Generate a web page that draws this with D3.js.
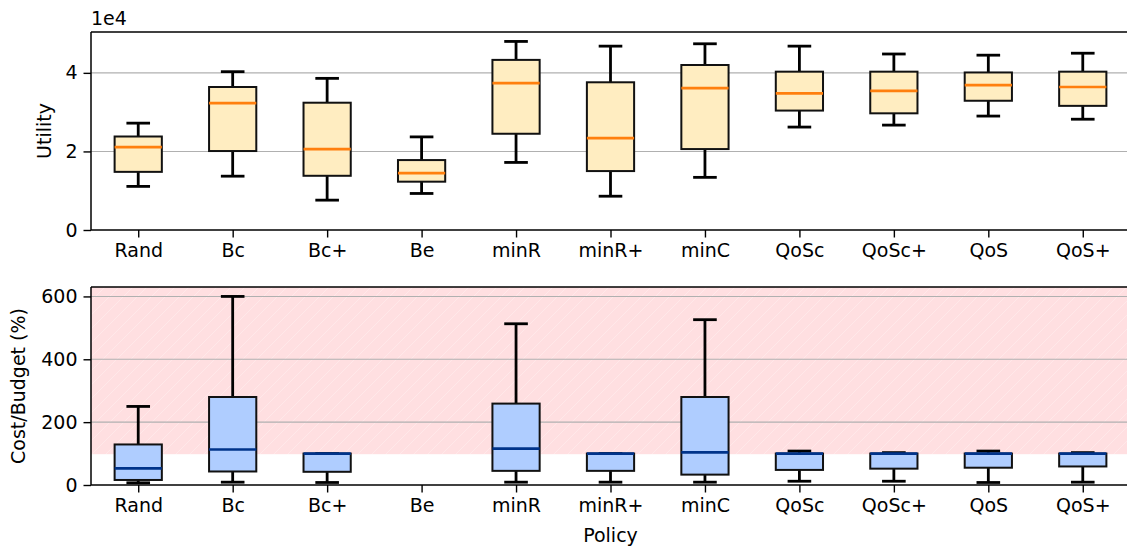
<!DOCTYPE html>
<html>
<head>
<meta charset="utf-8">
<script src="https://cdn.jsdelivr.net/npm/d3@7"></script>
<style>
  body { margin: 0; background: #fff; }
  svg { display: block; font-family: "DejaVu Sans", sans-serif; }
</style>
</head>
<body>
<div id="chart"></div>
<script>
const policies = ["Rand", "Bc", "Bc+", "Be", "minR", "minR+", "minC", "QoSc", "QoSc+", "QoS", "QoS+"];

// utility, in units of 1e4
const utilLow  = [1.11, 1.37, 0.76, 0.93, 1.72, 0.86, 1.34, 2.62, 2.67, 2.90, 2.82];
const utilQ1   = [1.48, 2.01, 1.38, 1.23, 2.45, 1.50, 2.06, 3.04, 2.97, 3.29, 3.16];
const utilMed  = [2.11, 3.23, 2.06, 1.45, 3.74, 2.34, 3.61, 3.48, 3.54, 3.69, 3.64];
const utilQ3   = [2.38, 3.64, 3.24, 1.78, 4.33, 3.76, 4.20, 4.03, 4.03, 4.01, 4.03];
const utilHigh = [2.72, 4.03, 3.86, 2.37, 4.80, 4.68, 4.74, 4.68, 4.48, 4.45, 4.50];

// cost / budget in %, Be has no data
const costLow  = [7, 9, 8, null, 9, 9, 9, 12, 12, 8, 9];
const costQ1   = [16, 43, 42, null, 45, 45, 33, 48, 52, 55, 59];
const costMed  = [53, 113, 100, null, 116, 100, 104, 100, 100, 100, 100];
const costQ3   = [129, 280, 100, null, 259, 100, 280, 100, 100, 100, 100];
const costHigh = [250, 600, 100, null, 513, 100, 526, 108, 103, 108, 103];

const utilTicks = [0, 2, 4];
const costTicks = [0, 200, 400, 600];
const overBudget = 98;

const W = 1127, H = 547;
const left = 91, right = 1130;
const fs = 19;

const svg = d3.select("#chart").append("svg")
    .attr("width", W)
    .attr("height", H);

const defs = svg.append("defs");
const pat = defs.append("pattern")
    .attr("id", "hatch")
    .attr("patternUnits", "userSpaceOnUse")
    .attr("width", 14).attr("height", 14);
pat.append("rect").attr("width", 14).attr("height", 14).attr("fill", "#ffdfe1");
pat.append("path")
    .attr("d", "M-1,15 L15,-1 M-4,4 L4,-4 M10,18 L18,10")
    .attr("stroke", "#fff").attr("stroke-opacity", 0.35).attr("stroke-width", 0.8);

const x = d3.scalePoint()
    .domain(policies)
    .range([left, right])
    .padding(0.5);
const step = x.step();
const boxW = step * 0.5, capW = step * 0.25;
const wW = 2.8;

function panel(top, bottom, yMax, ticks, tickFmt, label, labelX, series, fill, medColor, band) {
    const y = d3.scaleLinear().domain([0, yMax]).range([bottom, top]);
    const g = svg.append("g");

    if (band) {
        g.append("rect")
            .attr("x", left).attr("width", right - left)
            .attr("y", y(yMax)).attr("height", y(band) - y(yMax))
            .attr("fill", "url(#hatch)");
    }

    // grid
    g.append("g").selectAll("line")
        .data(ticks.filter(t => t > 0))
        .join("line")
        .attr("x1", left).attr("x2", right)
        .attr("y1", d => y(d)).attr("y2", d => y(d))
        .attr("stroke", "#b0b0b0").attr("stroke-width", 1.1);

    const rows = policies.map((p, i) => ({
        p, lo: series[0][i], q1: series[1][i], med: series[2][i], q3: series[3][i], hi: series[4][i]
    })).filter(d => d.med != null);

    const b = g.append("g").selectAll("g").data(rows).join("g")
        .attr("transform", d => `translate(${x(d.p)},0)`);

    b.append("line").attr("y1", d => y(d.lo)).attr("y2", d => y(d.q1))
        .attr("stroke", "#000").attr("stroke-width", wW);
    b.append("line").attr("y1", d => y(d.q3)).attr("y2", d => y(d.hi))
        .attr("stroke", "#000").attr("stroke-width", wW);
    b.append("line").attr("x1", -capW / 2).attr("x2", capW / 2)
        .attr("y1", d => y(d.lo)).attr("y2", d => y(d.lo))
        .attr("stroke", "#000").attr("stroke-width", wW);
    b.append("line").attr("x1", -capW / 2).attr("x2", capW / 2)
        .attr("y1", d => y(d.hi)).attr("y2", d => y(d.hi))
        .attr("stroke", "#000").attr("stroke-width", wW);
    b.append("rect")
        .attr("x", -boxW / 2).attr("width", boxW)
        .attr("y", d => y(d.q3)).attr("height", d => Math.max(0, y(d.q1) - y(d.q3)))
        .attr("fill", fill).attr("stroke", "#111").attr("stroke-width", 2);
    b.append("line").attr("x1", -boxW / 2).attr("x2", boxW / 2)
        .attr("y1", d => y(d.med)).attr("y2", d => y(d.med))
        .attr("stroke", medColor).attr("stroke-width", 2.7);

    // spines
    g.append("line").attr("x1", left).attr("x2", right).attr("y1", top).attr("y2", top)
        .attr("stroke", "#000").attr("stroke-width", 1.5);

    const ya = g.append("g").attr("transform", `translate(${left},0)`)
        .call(d3.axisLeft(y).tickValues(ticks).tickFormat(tickFmt).tickSize(7.5).tickPadding(6));
    ya.select(".domain").attr("stroke-width", 1.5).attr("d", `M0,${top}V${bottom}`);
    ya.selectAll(".tick line").attr("stroke-width", 1.4);
    ya.selectAll("text").attr("font-size", fs).attr("font-family", "DejaVu Sans").attr("fill", "#000");

    const xa = g.append("g").attr("transform", `translate(0,${bottom})`)
        .call(d3.axisBottom(x).tickSize(7.5).tickPadding(6));
    xa.select(".domain").attr("stroke-width", 1.5).attr("d", `M${left},0H${right}`);
    xa.selectAll(".tick line").attr("stroke-width", 1.4);
    xa.selectAll("text").attr("font-size", fs).attr("font-family", "DejaVu Sans").attr("fill", "#000");

    g.append("text")
        .attr("transform", `translate(${labelX},${(top + bottom) / 2}) rotate(-90)`)
        .attr("text-anchor", "middle").attr("dominant-baseline", "central")
        .attr("font-size", fs).text(label);
    return y;
}

panel(32, 230, 5.04, utilTicks, d3.format("d"), "Utility", 44,
    [utilLow, utilQ1, utilMed, utilQ3, utilHigh], "#ffedc1", "#ff7f0e", null);

svg.append("text").attr("x", left).attr("y", 25).attr("font-size", fs).text("1e4");

panel(287, 485, 630, costTicks, d3.format("d"), "Cost/Budget (%)", 18,
    [costLow, costQ1, costMed, costQ3, costHigh], "#afcdff", "#00338a", overBudget);

svg.append("text").attr("x", (left + right) / 2).attr("y", 542)
    .attr("text-anchor", "middle").attr("font-size", fs).text("Policy");
</script>
</body>
</html>
